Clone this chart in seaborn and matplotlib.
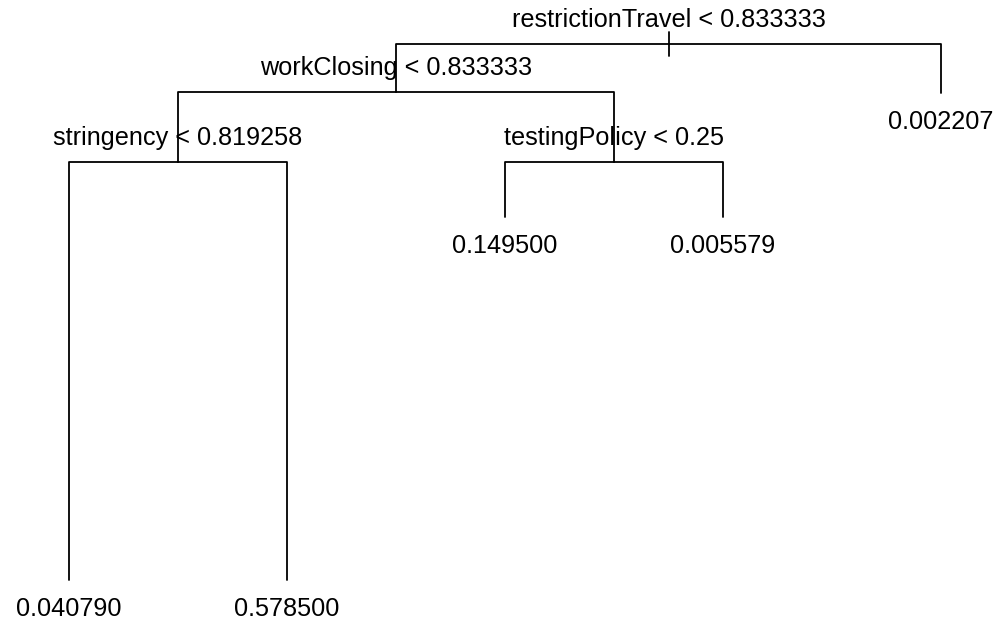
import matplotlib
matplotlib.use("Agg")
import matplotlib.pyplot as plt
import seaborn as sns
import pandas as pd

# Regression tree: internal splits and terminal node predictions
split_vars = ["restrictionTravel", "workClosing", "stringency", "testingPolicy"]
split_thresholds = ["0.833333", "0.833333", "0.819258", "0.25"]
split_heights = [536, 488, 418, 418]          # node deviance height (plot units)
split_children = [("s1", "l4"), ("s2", "s3"), ("l0", "l1"), ("l2", "l3")]

leaf_values = ["0.040790", "0.578500", "0.149500", "0.005579", "0.002207"]
leaf_heights = [0, 0, 363, 363, 487]

sns.set_theme(style="white")
plt.rcParams["font.family"] = ["Liberation Sans", "DejaVu Sans"]

# horizontal positions: leaves in order, splits at the mean of their children
xpos, ypos = {}, {}
for i, h in enumerate(leaf_heights):
    xpos[f"l{i}"] = i + 1
    ypos[f"l{i}"] = h
for i in reversed(range(len(split_vars))):
    a, b = split_children[i]
    xpos[f"s{i}"] = (xpos[a] + xpos[b]) / 2
    ypos[f"s{i}"] = split_heights[i]

# edges as polylines: parent (x, y) -> child x at parent height -> child
rows = []
seg = 0
for i in range(len(split_vars)):
    p = f"s{i}"
    for c in split_children[i]:
        for x, y in [(xpos[p], ypos[p]), (xpos[c], ypos[p]), (xpos[c], ypos[c])]:
            rows.append({"seg": seg, "x": x, "y": y})
        seg += 1
# short root marker
for y in (ypos["s0"] - 12, ypos["s0"] + 12):
    rows.append({"seg": seg, "x": xpos["s0"], "y": y})
edges = pd.DataFrame(rows)

fig = plt.figure(figsize=(9.95, 6.27), dpi=100)
ax = fig.add_axes([0, 0, 1, 1])
sns.lineplot(data=edges, x="x", y="y", units="seg", estimator=None, sort=False,
             color="black", linewidth=1.3, ax=ax, legend=False)

fs = 18.2
for i, (v, t) in enumerate(zip(split_vars, split_thresholds)):
    ax.text(xpos[f"s{i}"], split_heights[i] + 17, f"{v} < {t}",
            ha="center", va="baseline", fontsize=fs, color="black")
for i, v in enumerate(leaf_values):
    ax.text(xpos[f"l{i}"], leaf_heights[i] - 29, v,
            ha="center", va="center", fontsize=fs, color="black")

ax.set_xlim(1 - 69 / 218, 1 + 926 / 218)
ax.set_ylim(-47, 580)
ax.axis("off")
fig.savefig("out.png", dpi=100, facecolor="white")
